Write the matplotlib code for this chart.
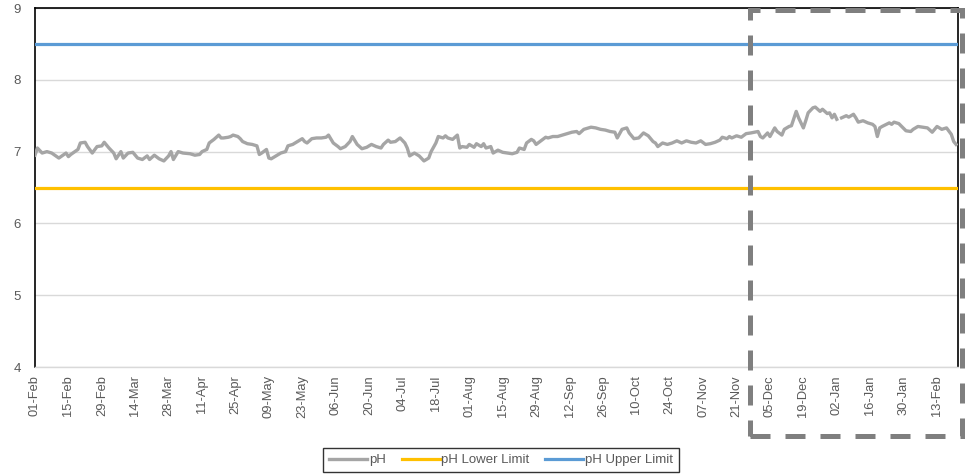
import matplotlib
matplotlib.use('Agg')
import matplotlib.pyplot as plt
import matplotlib.dates as mdates
import numpy as np
from datetime import datetime, timedelta
from matplotlib.patches import Rectangle

start_date = "2020-02-01"
end_day = 386.8
tick_step_days = 14
last_tick_day = 378

days = [0, 1, 3, 5, 7, 10, 13, 14, 15, 18, 19, 21, 22, 24, 26, 28, 29, 31, 33, 34,
        36, 37, 39, 41, 43, 45, 47, 48, 50, 52, 54, 56, 57, 58, 60, 62, 65, 67, 69, 70,
        72, 73, 75, 77, 78, 79, 81, 82, 83, 85, 86, 87, 89, 91, 93, 94, 95, 97, 98, 99,
        101, 103, 105, 106, 108, 110, 112, 113, 114, 116, 118, 120, 122, 123, 125, 127, 128, 130, 132, 133,
        135, 137, 139, 141, 143, 145, 146, 148, 149, 151, 153, 155, 156, 157, 159, 161, 163, 165, 166, 168,
        169, 171, 172, 173, 175, 177, 178, 179, 181, 182, 184, 185, 187, 188, 189, 191, 192, 194, 196, 198,
        200, 202, 203, 205, 206, 208, 209, 210, 212, 214, 215, 217, 219, 221, 223, 225, 227, 228, 230, 233,
        235, 237, 239, 241, 243, 244, 246, 248, 249, 251, 253, 255, 257, 259, 260, 261, 263, 265, 267, 269,
        271, 273, 275, 277, 279, 281, 283, 285, 287, 288, 290, 291, 292, 294, 296, 298, 300, 303, 304, 305,
        307, 308, 310, 311, 313, 314, 316, 317, 319, 320, 322, 323, 324, 326, 327, 328, 329, 330, 332, 333,
        334, 335, 336, 337, 338, 340, 341, 343, 344, 345, 347, 349, 351, 352, 353, 354, 355, 358, 359, 360,
        362, 365, 367, 368, 370, 372, 374, 376, 377, 378, 380, 382, 384, 385, 386]

ph = [6.95, 7.05, 6.98, 7.00, 6.98, 6.91, 6.98, 6.93, 6.96, 7.03, 7.12, 7.13, 7.07, 6.98, 7.07, 7.08, 7.13, 7.05, 6.98, 6.90,
      7.00, 6.91, 6.98, 6.99, 6.91, 6.89, 6.94, 6.89, 6.95, 6.90, 6.87, 6.94, 7.00, 6.89, 7.00, 6.98, 6.97, 6.95, 6.96, 7.00,
      7.03, 7.12, 7.17, 7.23, 7.19, 7.19, 7.20, 7.21, 7.23, 7.21, 7.18, 7.14, 7.11, 7.10, 7.08, 6.96, 6.98, 7.03, 6.91, 6.90,
      6.94, 6.98, 7.00, 7.08, 7.10, 7.14, 7.18, 7.14, 7.12, 7.18, 7.19, 7.19, 7.20, 7.23, 7.12, 7.07, 7.04, 7.07, 7.14, 7.21,
      7.10, 7.04, 7.06, 7.10, 7.07, 7.05, 7.10, 7.16, 7.13, 7.14, 7.19, 7.12, 7.05, 6.94, 6.98, 6.94, 6.87, 6.91, 7.00, 7.12,
      7.21, 7.19, 7.22, 7.19, 7.17, 7.23, 7.05, 7.07, 7.06, 7.10, 7.06, 7.11, 7.07, 7.11, 7.05, 7.07, 6.98, 7.02, 6.99, 6.98,
      6.97, 6.99, 7.05, 7.03, 7.12, 7.17, 7.15, 7.10, 7.15, 7.20, 7.19, 7.21, 7.21, 7.23, 7.25, 7.27, 7.28, 7.25, 7.31, 7.34,
      7.33, 7.31, 7.30, 7.28, 7.27, 7.19, 7.31, 7.33, 7.26, 7.18, 7.19, 7.26, 7.22, 7.14, 7.12, 7.07, 7.12, 7.10, 7.12, 7.15,
      7.12, 7.15, 7.13, 7.12, 7.15, 7.10, 7.11, 7.13, 7.16, 7.20, 7.18, 7.21, 7.19, 7.22, 7.20, 7.25, 7.26, 7.28, 7.21, 7.19,
      7.26, 7.21, 7.33, 7.28, 7.23, 7.31, 7.35, 7.36, 7.56, 7.47, 7.33, 7.43, 7.54, 7.61, 7.62, 7.59, 7.56, 7.59, 7.53, 7.54,
      7.47, 7.52, 7.45, float('nan'), 7.47, 7.50, 7.48, 7.52, 7.47, 7.41, 7.43, 7.40, 7.38, 7.35, 7.21, 7.33, 7.35, 7.40, 7.38, 7.41,
      7.39, 7.29, 7.28, 7.31, 7.35, 7.34, 7.33, 7.27, 7.31, 7.35, 7.31, 7.33, 7.24, 7.14, 7.10]

lower_limit = 6.5
upper_limit = 8.5
y_min, y_max = 4, 9

series_names = ["pH", "pH Lower Limit", "pH Upper Limit"]
colors = ["#a5a5a5", "#ffc000", "#5b9bd5"]

plt.rcParams['font.family'] = ['Liberation Sans', 'DejaVu Sans']

t0 = datetime.strptime(start_date, "%Y-%m-%d")
x = [t0 + timedelta(days=d) for d in days]
x_end = t0 + timedelta(days=end_day)

fig = plt.figure(figsize=(9.68, 4.76), dpi=100)
ax = fig.add_axes([35/968, 1-367/476, 923/968, 359/476])

l1, = ax.plot(x, ph, color=colors[0], lw=2.4, solid_joinstyle='round', zorder=3)
l2, = ax.plot([t0, x_end], [lower_limit, lower_limit], color=colors[1], lw=2.3, zorder=3)
l3, = ax.plot([t0, x_end], [upper_limit, upper_limit], color=colors[2], lw=2.3, zorder=3)

ax.set_xlim(t0, x_end)
ax.set_ylim(y_min, y_max)
ax.set_yticks(range(y_min, y_max + 1))
ticks = [t0 + timedelta(days=d) for d in range(0, last_tick_day + 1, tick_step_days)]
ax.set_xticks(ticks)
ax.xaxis.set_major_formatter(mdates.DateFormatter('%d-%b'))
ax.tick_params(axis='x', rotation=90, length=0, pad=6, labelsize=9.3, labelcolor='#595959')
ax.tick_params(axis='y', length=0, pad=10, labelsize=9.5, labelcolor='#595959')

ax.grid(axis='y', color='#d9d9d9', lw=1)
ax.set_axisbelow(True)
for s in ['left', 'top', 'right']:
    ax.spines[s].set_color('black')
    ax.spines[s].set_linewidth(1.2)
ax.spines['bottom'].set_color('#d9d9d9')
ax.spines['bottom'].set_linewidth(1)

leg = fig.legend([l1, l2, l3], series_names, loc='center', bbox_to_anchor=(501/968, 1-460/476),
                 ncol=3, frameon=True, fancybox=False, fontsize=9.5, handlelength=2.9,
                 columnspacing=1.2, handletextpad=0.1, borderpad=0.45, borderaxespad=0,
                 labelcolor='#595959')
leg.get_frame().set_edgecolor('black')
leg.get_frame().set_linewidth(1.0)

rect = Rectangle((750/968, 1-436/476), 212/968, 426/476, transform=fig.transFigure,
                 fill=False, edgecolor='#7f7f7f', lw=3.6, linestyle=(0, (4, 3)), zorder=10)
fig.patches.append(rect)

fig.savefig('out.png', dpi=100)
